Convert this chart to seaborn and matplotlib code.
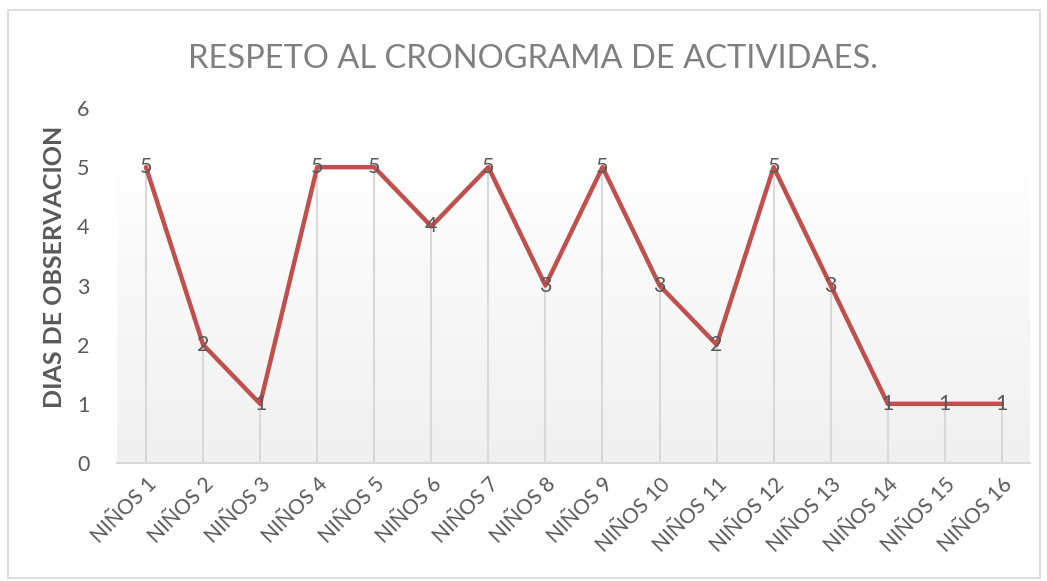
import numpy as np
import pandas as pd
import matplotlib
matplotlib.use("Agg")
import matplotlib.pyplot as plt
import seaborn as sns
from matplotlib.patches import Rectangle
from matplotlib.colors import LinearSegmentedColormap

categories = ["NIÑOS 1", "NIÑOS 2", "NIÑOS 3", "NIÑOS 4", "NIÑOS 5", "NIÑOS 6",
              "NIÑOS 7", "NIÑOS 8", "NIÑOS 9", "NIÑOS 10", "NIÑOS 11", "NIÑOS 12",
              "NIÑOS 13", "NIÑOS 14", "NIÑOS 15", "NIÑOS 16"]
values = [5, 2, 1, 5, 5, 4, 5, 3, 5, 3, 2, 5, 3, 1, 1, 1]
y_ticks = [0, 1, 2, 3, 4, 5, 6]
title = "RESPETO AL CRONOGRAMA DE ACTIVIDAES."
y_label = "DIAS DE OBSERVACION"

sns.set_style("white")
plt.rcParams['font.family'] = ['Lato', 'DejaVu Sans']

df = pd.DataFrame({"idx": np.arange(len(categories)), "cat": categories, "val": values})

fig = plt.figure(figsize=(10.47, 5.81), dpi=100)
ax = fig.add_axes([0.1122, 0.2031, 0.872, 0.611])

# gradient background
grad = np.linspace(0, 1, 256).reshape(-1, 1)
cmap = LinearSegmentedColormap.from_list("g", ["#f0f0f0", "#ffffff"])
ax.imshow(grad, extent=[-0.5, len(categories) - 0.5, 0, 5.18], origin="lower",
          aspect="auto", cmap=cmap, zorder=0)

# drop lines
ax.vlines(df["idx"], 0, df["val"], colors="#d9d9d9", linewidth=1.5, zorder=1)

sns.lineplot(data=df, x="idx", y="val", ax=ax, color="#C0504D", linewidth=3.2,
             zorder=3, legend=False)

for i, v in zip(df["idx"], df["val"]):
    ax.text(i, v, str(v), ha="center", va="center", fontsize=15.5, color="#595959", zorder=4)

ax.set_xlim(-0.5, len(categories) - 0.5)
ax.set_ylim(0, 6)
ax.set_yticks(y_ticks)
ax.set_yticklabels([str(t) for t in y_ticks], fontsize=15.5, color="#595959")
ax.set_xticks(df["idx"])
ax.set_xticklabels(categories, rotation=45, ha="right", rotation_mode="anchor",
                   fontsize=15, color="#595959")
ax.tick_params(axis="y", length=0, pad=20)
ax.tick_params(axis="x", length=0, pad=8)
for s in ["top", "right", "left"]:
    ax.spines[s].set_visible(False)
ax.spines["bottom"].set_color("#d9d9d9")
ax.spines["bottom"].set_linewidth(1.5)
ax.set_xlabel("")
ax.set_ylabel(y_label, fontsize=18, fontweight="bold", color="#595959")
ax.yaxis.set_label_coords(-0.056, 0.552)
ax.grid(False)

fig.text(0.509, 0.898, title, ha="center", va="center", fontsize=23.5, color="#7f7f7f")

fig.patches.append(Rectangle((0.008, 0.005), 0.985, 0.978, transform=fig.transFigure,
                             fill=False, edgecolor="#d9d9d9", linewidth=1.2))

fig.savefig("out.png", dpi=100)
